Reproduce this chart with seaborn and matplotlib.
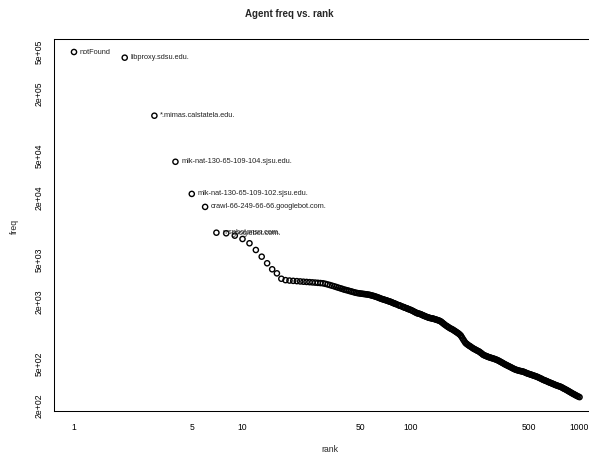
import numpy as np
import pandas as pd
import seaborn as sns
import matplotlib
matplotlib.use('Agg')
import matplotlib.pyplot as plt
from matplotlib.ticker import FixedLocator, FixedFormatter, NullLocator

sns.set_style("white")
plt.rcParams['font.family'] = ['Liberation Sans', 'DejaVu Sans']

# top ranks, one point each
ranks_top = list(range(1, 30))
freq_top = [500000, 441000, 122000, 44000, 21600, 16200, 9150, 9030, 8570, 7960,
            7240, 6240, 5380, 4650, 4070, 3720, 3300, 3200, 3170, 3150,
            3130, 3110, 3090, 3075, 3060, 3045, 3030, 3015, 3000]

# tail readings (dense part of the curve)
ranks_tail = [30, 31, 32, 33, 34, 35, 36, 37, 38, 39, 40, 41, 42, 43, 44, 45, 46, 47, 48, 50,
              51, 53, 54, 56, 57, 59, 60, 62, 64, 66, 68, 70, 72, 74, 76, 78, 80, 82, 85, 87,
              90, 92, 95, 97, 100, 103, 106, 109, 112, 115, 118, 121, 125, 128, 132, 135, 139, 143, 147, 151,
              155, 159, 164, 168, 173, 178, 183, 188, 193, 198, 204, 210, 215, 221, 227, 234, 240, 247, 254, 261,
              268, 276, 283, 291, 299, 307, 316, 325, 334, 343, 352, 362, 372, 382, 393, 404, 415, 427, 439, 451,
              463, 476, 489, 503, 517, 531, 546, 561, 577, 593, 609, 626, 643, 661, 679, 698, 717, 737, 758, 779,
              800, 822, 845, 868, 892, 917, 942, 968, 1000]
freq_tail = [2985, 2950, 2910, 2870, 2830, 2790, 2750, 2710, 2673, 2640, 2600, 2575, 2550, 2520, 2495, 2470, 2445, 2420, 2405, 2380,
             2370, 2350, 2340, 2320, 2305, 2270, 2254, 2215, 2175, 2130, 2095, 2065, 2035, 2000, 1975, 1935, 1905, 1875, 1830, 1805,
             1765, 1740, 1705, 1680, 1650, 1610, 1570, 1535, 1520, 1495, 1465, 1440, 1410, 1390, 1375, 1365, 1345, 1325, 1305, 1275,
             1230, 1190, 1150, 1120, 1090, 1062, 1030, 1000, 970, 930, 860, 800, 775, 750, 730, 705, 690, 672, 657, 635,
             613, 600, 590, 580, 572, 565, 555, 545, 533, 520, 508, 495, 484, 474, 463, 452, 443, 436, 430, 426,
             422, 414, 406, 400, 394, 388, 382, 376, 368, 361, 352, 346, 340, 333, 327, 321, 315, 310, 305, 300,
             292, 286, 279, 272, 265, 258, 252, 246, 240]

# more readings between the ones above, where the points merge into a band
ranks_mid = [49, 52, 55, 58, 61, 63, 65, 67, 69, 71, 73, 75, 77, 79, 81, 84, 86, 89, 91, 94,
             96, 99, 102, 105, 108, 111, 114, 117, 120, 123, 127, 130, 134, 137, 141, 145, 149, 153, 157, 162,
             166, 171, 176, 181, 186, 191, 196, 201, 207, 213, 218, 224, 231, 237, 244, 251, 258, 265, 272, 280,
             287, 295, 303, 312, 321, 330, 339, 348, 357, 367, 377, 388, 399, 410, 421, 433, 445, 457, 470, 483,
             496, 510, 524, 539, 554, 569, 585, 601, 618, 635, 652, 670, 689, 708, 727, 748, 769, 790, 811, 834,
             857, 880, 905, 930, 955, 984]
freq_mid = [2392, 2360, 2330, 2288, 2235, 2195, 2152, 2112, 2080, 2050, 2018, 1988, 1955, 1920, 1890, 1845, 1818, 1778, 1752, 1718,
            1692, 1660, 1625, 1585, 1550, 1525, 1505, 1475, 1450, 1425, 1398, 1382, 1368, 1355, 1335, 1315, 1290, 1252, 1210, 1165,
            1135, 1100, 1075, 1045, 1015, 985, 950, 895, 830, 785, 762, 740, 715, 697, 680, 664, 645, 624, 606, 595,
            585, 576, 568, 560, 550, 539, 526, 514, 501, 490, 479, 468, 457, 447, 439, 433, 428, 424, 418, 410,
            403, 397, 391, 385, 379, 372, 364, 356, 349, 343, 336, 330, 324, 318, 312, 307, 302, 296, 289, 282,
            275, 268, 261, 255, 249, 243]

agents = ["notFound", "libproxy.sdsu.edu.", "*.mimas.calstatela.edu.",
          "mlk-nat-130-65-109-104.sjsu.edu.", "mlk-nat-130-65-109-102.sjsu.edu.",
          "crawl-66-249-66-66.googlebot.com.", "msnbot.msn.com.", "googlebot.com."]

x_ticks = [1, 5, 10, 50, 100, 500, 1000]
x_labels = ['1', '5', '10', '50', '100', '500', '1000']
y_ticks = [2e2, 5e2, 1e3, 2e3, 5e3, 1e4, 2e4, 5e4, 1e5, 2e5, 5e5]
y_labels = ['2e+02', '5e+02', '', '2e+03', '5e+03', '', '2e+04', '5e+04', '', '2e+05', '5e+05']

df = pd.DataFrame({'rank': ranks_top + ranks_tail + ranks_mid,
                   'freq': freq_top + freq_tail + freq_mid})

fig = plt.figure(figsize=(5.89, 4.54), dpi=100)
ax = fig.add_axes([54 / 589, 43 / 454, 535 / 589, 372 / 454])
sns.scatterplot(data=df, x='rank', y='freq', ax=ax, marker='o',
                facecolor='none', edgecolor='black', s=14, linewidth=1.0)
ax.set_xscale('log')
ax.set_yscale('log')
ax.set_xlim(0.761, 1138)
ax.set_ylim(176.5, 666800)

for i, name in enumerate(agents):
    ax.annotate(name, (df['rank'][i], df['freq'][i]), xytext=(4.2, 0),
                textcoords='offset points', ha='left', va='center', fontsize=5.3, color='#222222')

ax.xaxis.set_major_locator(FixedLocator(x_ticks))
ax.xaxis.set_major_formatter(FixedFormatter(x_labels))
ax.xaxis.set_minor_locator(NullLocator())
ax.yaxis.set_major_locator(FixedLocator(y_ticks))
ax.yaxis.set_major_formatter(FixedFormatter(y_labels))
ax.yaxis.set_minor_locator(NullLocator())
ax.tick_params(direction='out', length=3.8, width=0.75, colors='black', labelsize=6.2)
ax.tick_params(axis='x', pad=5)
ax.tick_params(axis='y', pad=4, labelrotation=90)
for lab in ax.get_yticklabels():
    lab.set_va('center')

for side in ['left', 'bottom', 'top']:
    ax.spines[side].set_linewidth(0.75)
    ax.spines[side].set_color('black')
ax.spines['right'].set_visible(False)
ax.set_xlabel('')
ax.set_ylabel('')

fig.text(289 / 589, 1 - 14 / 454, 'Agent freq vs. rank', ha='center', va='center',
         fontsize=7, fontweight='bold')
fig.text(330 / 589, 1 - 449 / 454, 'rank', ha='center', va='center', fontsize=6.2)
fig.text(14 / 589, 1 - 226 / 454, 'freq', ha='center', va='center', fontsize=6.2, rotation=90)

fig.savefig('out.png', dpi=100)
